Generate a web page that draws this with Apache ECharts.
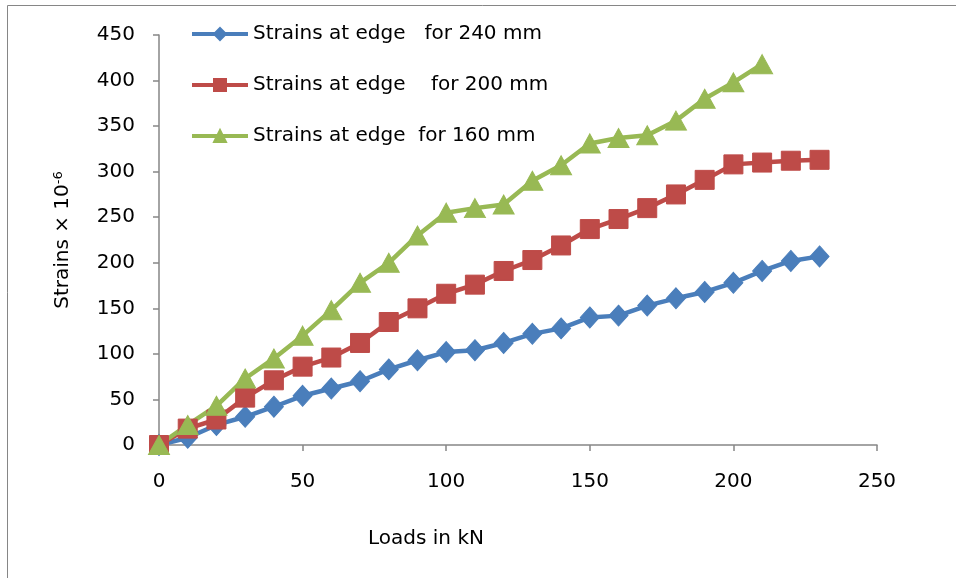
<!DOCTYPE html>
<html>
<head>
<meta charset="utf-8">
<script src="https://cdn.jsdelivr.net/npm/echarts@6/dist/echarts.min.js"></script>
<style>
  html, body { margin: 0; padding: 0; background: #fff; }
  #chart { width: 956px; height: 578px; }
</style>
</head>
<body>
<div id="chart"></div>
<script>
// Applied load (kN)
const loads = [0, 10, 20, 30, 40, 50, 60, 70, 80, 90, 100, 110, 120, 130, 140, 150, 160, 170, 180, 190, 200, 210, 220, 230];

// Edge strains (× 10^-6) for each slab thickness
const strains240 = [0, 8, 22, 31, 42, 54, 62, 70, 83, 93, 102, 104, 112, 122, 128, 140, 142, 153, 161, 168, 178, 191, 202, 207];
const strains200 = [0, 18, 28, 52, 71, 86, 96, 112, 135, 150, 166, 176, 191, 203, 219, 237, 248, 260, 275, 291, 308, 310, 312, 313];
const strains160 = [0, 22, 43, 73, 95, 120, 148, 178, 200, 230, 255, 260, 264, 290, 307, 331, 337, 340, 356, 380, 398, 418];

const seriesNames = [
  'Strains at edge   for 240 mm',
  'Strains at edge    for 200 mm',
  'Strains at edge  for 160 mm'
];

const FONT = 'DejaVu Sans';
const FONT_SIZE = 20;
const AXIS_GRAY = '#868686';

function pairs(xs, ys) {
  return ys.map((y, i) => [xs[i], y]);
}

function lineSeries(name, values, color, symbol, size) {
  return {
    name: name,
    type: 'line',
    data: pairs(loads, values),
    symbol: symbol,
    symbolSize: size,
    showSymbol: true,
    lineStyle: { color: color, width: 4.5 },
    itemStyle: { color: color, borderColor: color, borderWidth: 1 },
    emphasis: { disabled: true },
    animation: false
  };
}

const chart = echarts.init(document.getElementById('chart'), null, { renderer: 'canvas' });

chart.setOption({
  backgroundColor: '#ffffff',
  textStyle: { fontFamily: FONT },
  graphic: [{
    type: 'rect',
    shape: { x: 7.5, y: 5.5, width: 1200, height: 1200 },
    style: { fill: 'none', stroke: AXIS_GRAY, lineWidth: 1 },
    silent: true,
    z: -10
  }],
  grid: { left: 159, right: 79, top: 35, bottom: 133, containLabel: false },
  legend: {
    orient: 'vertical',
    left: 185,
    top: 19,
    itemWidth: 56,
    itemHeight: 15,
    itemGap: 31,
    lineStyle: { width: 4 },
    textStyle: { fontFamily: FONT, fontSize: FONT_SIZE, color: '#000' },
    data: seriesNames
  },
  xAxis: {
    type: 'value',
    min: 0,
    max: 250,
    interval: 50,
    name: 'Loads in kN',
    nameLocation: 'middle',
    nameGap: 84,
    nameTextStyle: { fontFamily: FONT, fontSize: FONT_SIZE, color: '#000', padding: [0, 184, 0, 0] },
    axisLine: { show: true, lineStyle: { color: AXIS_GRAY, width: 1.5 } },
    axisTick: { show: true, length: 6, lineStyle: { color: AXIS_GRAY, width: 1.5 } },
    axisLabel: { fontFamily: FONT, fontSize: FONT_SIZE, color: '#000', margin: 27 },
    splitLine: { show: false }
  },
  yAxis: {
    type: 'value',
    min: 0,
    max: 450,
    interval: 50,
    name: '{b|Strains × 10}{s|-6}',
    nameLocation: 'middle',
    nameGap: 86,
    nameRotate: 90,
    nameTextStyle: {
      rich: {
        b: { fontFamily: FONT, fontSize: FONT_SIZE, color: '#000' },
        s: { fontFamily: FONT, fontSize: 13, color: '#000', verticalAlign: 'top', padding: [0, 0, 8, 0] }
      }
    },
    axisLine: { show: true, lineStyle: { color: AXIS_GRAY, width: 1.5 } },
    axisTick: { show: true, length: 6, lineStyle: { color: AXIS_GRAY, width: 1.5 } },
    axisLabel: { fontFamily: FONT, fontSize: FONT_SIZE, color: '#000', margin: 24 },
    splitLine: { show: false }
  },
  series: [
    lineSeries(seriesNames[0], strains240, '#4A7EBB', 'diamond', [19, 21]),
    lineSeries(seriesNames[1], strains200, '#BE4B48', 'rect', [19, 19]),
    lineSeries(seriesNames[2], strains160, '#98B954', 'triangle', [21, 19])
  ]
});
</script>
</body>
</html>
